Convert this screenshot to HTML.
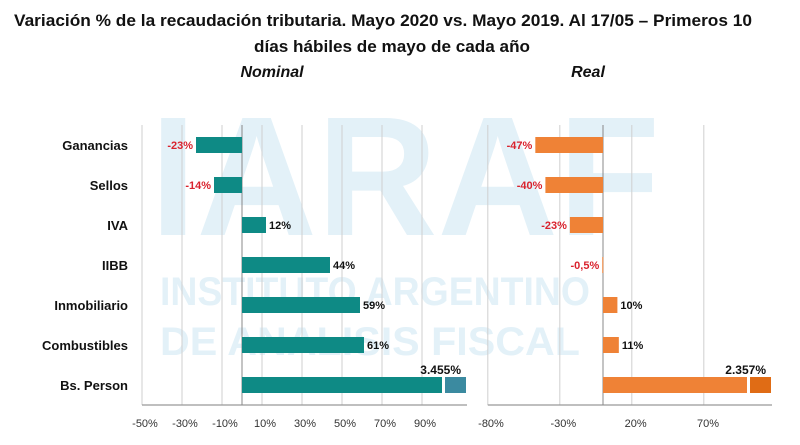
<!DOCTYPE html>
<html><head><meta charset="utf-8"><style>
html,body{margin:0;padding:0;background:#fff;}
svg{display:block;font-family:"Liberation Sans",sans-serif;}
</style></head><body>
<svg id="chart" width="800" height="445" viewBox="0 0 800 445" xmlns="http://www.w3.org/2000/svg">
<g fill="#e3f1f8" font-weight="bold">
<text x="150" y="235" font-size="170" textLength="510" lengthAdjust="spacingAndGlyphs">IARAF</text>
<text x="160" y="305" font-size="40" textLength="430" lengthAdjust="spacingAndGlyphs">INSTITUTO ARGENTINO</text>
<text x="160" y="355" font-size="40" textLength="420" lengthAdjust="spacingAndGlyphs">DE ANALISIS FISCAL</text>
</g>
<text x="14" y="26" font-size="17" font-weight="bold" fill="#111" textLength="738" lengthAdjust="spacingAndGlyphs">Variación % de la recaudación tributaria. Mayo 2020 vs. Mayo 2019. Al 17/05 – Primeros 10</text>
<text x="392" y="52" font-size="17" font-weight="bold" fill="#111" text-anchor="middle" textLength="276" lengthAdjust="spacingAndGlyphs">días hábiles de mayo de cada año</text>
<text x="272" y="77" font-size="16" font-weight="bold" font-style="italic" fill="#111" text-anchor="middle">Nominal</text>
<text x="588" y="77" font-size="16" font-weight="bold" font-style="italic" fill="#111" text-anchor="middle">Real</text>
<g id="plot"></g>
</svg>
<script>
const categories = ["Ganancias","Sellos","IVA","IIBB","Inmobiliario","Combustibles","Bs. Person"];
const nominalValues = [-23,-14,12,44,59,61,3455];
const nominalLabels = ["-23%","-14%","12%","44%","59%","61%","3.455%"];
const realValues = [-47,-40,-23,-0.5,10,11,2357];
const realLabels = ["-47%","-40%","-23%","-0,5%","10%","11%","2.357%"];
const nominalTicks = ["-50%","-30%","-10%","10%","30%","50%","70%","90%"];
const realTicks = ["-80%","-30%","20%","70%"];

const NS="http://www.w3.org/2000/svg";
const plot=document.getElementById('plot');
function mk(tag,attrs,parent){const e=document.createElementNS(NS,tag);for(const k in attrs)e.setAttribute(k,attrs[k]);(parent||plot).appendChild(e);return e;}
const top0=125, rowH=40, bottom=top0+rowH*categories.length;
const yRow=i=>top0+rowH*i+rowH/2;
// nominal: zero at 242, 2px per %
const xN=v=>242+2*Math.min(v,100);
const xR=v=>603+1.44*Math.min(v,100);

function panel(name,xf,gridVals,minV,maxV,vals,labels,col,stubCol,tickLabels,tickX0,tickX1){
  const g=mk('g',{});
  
  
  gridVals.forEach(v=>{
    const l=mk('line',{x1:xf(v),x2:xf(v),y1:top0,y2:bottom,stroke:'#cfcfcf','stroke-width':1},g);
    
    
  });
  const ax=mk('line',{x1:xf(minV),x2:xf(maxV)+25,y1:bottom,y2:bottom,stroke:'#999','stroke-width':1.2},g);
  
  
  const za=mk('line',{x1:xf(0),x2:xf(0),y1:top0,y2:bottom,stroke:'#888','stroke-width':1},g);
  
  
  vals.forEach((v,i)=>{
    const y=yRow(i)-8, x0=xf(0), x1=xf(v);
    const r=mk('rect',{x:Math.min(x0,x1),y:y,width:Math.max(1,Math.abs(x1-x0)),height:16,fill:col},g);
    
    
    let t;
    if(v>100){
      const s=mk('rect',{x:x1+3,y:y,width:21,height:16,fill:stubCol},g);
      
      
      t=mk('text',{x:x1+19,y:y-3,'font-size':12,'font-weight':'bold',fill:'#111','text-anchor':'end'},g);
    } else if(v<0){
      t=mk('text',{x:x1-3,y:yRow(i)+4,'font-size':11,'font-weight':'bold',fill:'#d9232e','text-anchor':'end'},g);
    } else {
      t=mk('text',{x:x1+3,y:yRow(i)+4,'font-size':11,'font-weight':'bold',fill:'#111'},g);
    }
    t.textContent=labels[i];
    
    
  });
  tickLabels.forEach((s,i)=>{
    const x=tickX0+(tickX1-tickX0)*i/(tickLabels.length-1);
    const t=mk('text',{x:x,y:427,'font-size':11,fill:'#333','text-anchor':'middle'},g);
    t.textContent=s;
    
    
  });
}
panel('nominal',xN,[-50,-30,-10,10,30,50,70,90],-50,100,nominalValues,nominalLabels,'#0e8a85','#3b8aa0',nominalTicks,145,425);
panel('real',xR,[-80,-30,20,70],-80,100,realValues,realLabels,'#ef8236','#e06c15',realTicks,491,708);
categories.forEach((c,i)=>{
  const t=mk('text',{x:128,y:yRow(i)+5,'font-size':13,'font-weight':'bold',fill:'#111','text-anchor':'end'});
  t.textContent=c;
  
  
});
</script>
</body></html>
